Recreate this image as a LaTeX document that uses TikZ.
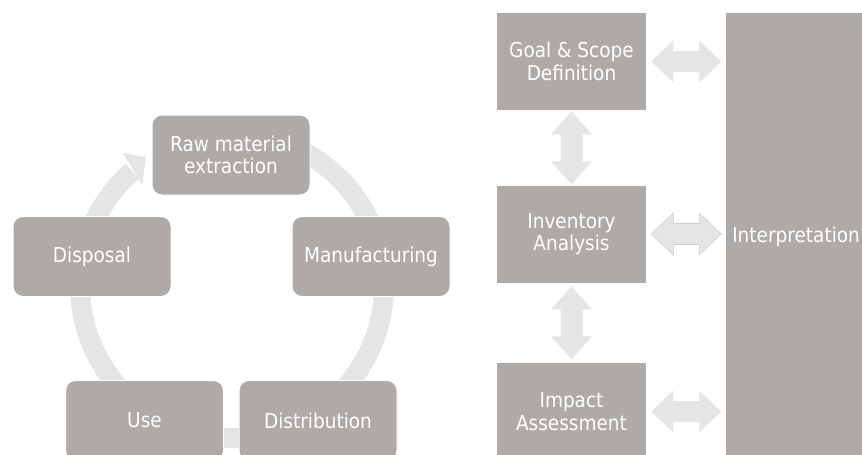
\documentclass[tikz,border=0pt]{standalone}
\usepackage{fontspec}
\setmainfont{DejaVu Sans}[FakeStretch=0.9]
\usetikzlibrary{calc}

\definecolor{boxgray}{RGB}{173,170,168}
\definecolor{ringgray}{RGB}{229,229,229}

\tikzset{
 stage/.style={rounded corners=7.5pt, fill=boxgray, draw=white, line width=0.75pt,
   text=white, align=center, inner sep=0pt,
   minimum width=118.5pt, minimum height=60pt,
   font=\fontsize{15.4}{17}\selectfont},
 phase/.style={fill=boxgray, text=white, align=center, inner sep=0pt,
   minimum width=111.75pt, minimum height=72.75pt,
   font=\fontsize{15.4}{17}\selectfont},
 ring/.style={draw=ringgray, line width=15pt},
 blockarrow/.style={fill=ringgray},
}

\begin{document}
\begin{tikzpicture}[x=0.75pt,y=-0.75pt]
 \useasboundingbox (0,0) rectangle (862,454);
 \clip (0,0) rectangle (862,454);

 %Cycle (y runs downwards, so angles are mirrored)
 \coordinate (hub) at (232,286);
 \draw[ring] (hub) ++(-118:152) arc[start angle=-118, end angle=229, radius=152];
 \fill[ringgray] (123,153) -- (146,157) -- (142,185) -- cycle;

 \node (raw) [stage] at (231,155) {Raw material\\extraction};
 \node (manufacturing) [stage] at (371,256.5) {Manufacturing};
 \node (distribution) [stage] at (318,420.5) {Distribution};
 \node (use) [stage] at (144.5,420.5) {Use};
 \node (disposal) [stage] at (92,256.5) {Disposal};

 %Phases
 \node (goal) [phase] at (571.5,61.5) {Goal \& Scope\\Definition};
 \node (inventory) [phase] at (571.5,234) {Inventory\\Analysis};
 \node (impact) [phase] at (571.5,411.5) {Impact\\Assessment};
 \node (interp) [phase, minimum height=335.25pt, anchor=north west] at (726,13) {Interpretation\hspace*{7pt}};

 %Arrows to interpretation
 \foreach \n in {goal,inventory,impact}
  \fill[blockarrow, shift={($(\n.east)+(40,0)$)}]
   (-35,0) -- (-13,-21) -- (-13,-10.5) -- (13,-10.5) -- (13,-21) -- (35,0)
   -- (13,21) -- (13,10.5) -- (-13,10.5) -- (-13,21) -- cycle;
 \draw[boxgray!60, line width=0.4pt, shift={($(inventory.east)+(40,0)$)}]
   (-35,0) -- (-13,-21) -- (-13,-10.5) -- (13,-10.5) -- (13,-21) -- (35,0)
   -- (13,21) -- (13,10.5) -- (-13,10.5) -- (-13,21) -- cycle;

 %Arrows between phases
 \foreach \a/\b in {goal/inventory,inventory/impact}
  \fill[blockarrow, shift={($(\a.south)!0.5!(\b.north)$)}]
   (0,-36.5) -- (20.5,-13.5) -- (11,-13.5) -- (11,13.5) -- (20.5,13.5) -- (0,36.5)
   -- (-20.5,13.5) -- (-11,13.5) -- (-11,-13.5) -- (-20.5,-13.5) -- cycle;

\end{tikzpicture}
\end{document}
